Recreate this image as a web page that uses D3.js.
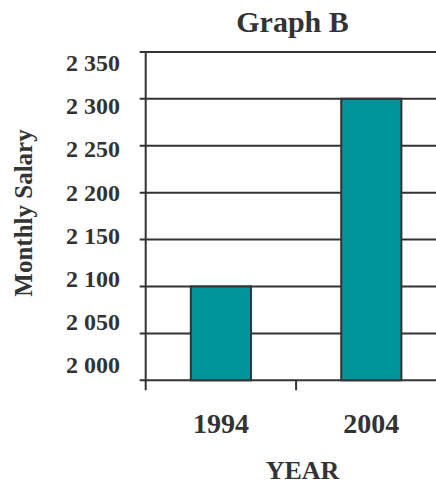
<!DOCTYPE html>
<html>
<head>
<meta charset="utf-8">
<script src="https://cdn.jsdelivr.net/npm/d3@7"></script>
<style>
  html, body { margin: 0; padding: 0; background: #fff; }
  svg { display: block; }
  text { font-family: "Liberation Serif", "Times New Roman", serif; font-weight: bold; fill: #333; }
</style>
</head>
<body>
<svg id="chart" width="436" height="485"></svg>
<script>
// Monthly salary by year
const years = ["1994", "2004"];
const salaries = [2100, 2300];
const yTicks = [2000, 2050, 2100, 2150, 2200, 2250, 2300, 2350];
const yTickLabels = ["2 000", "2 050", "2 100", "2 150", "2 200", "2 250", "2 300", "2 350"];

const svg = d3.select("#chart");
const ink = "#333";

const plot = { left: 145.7, right: 446.5, top: 51.9, bottom: 380.3 };

const x = d3.scaleBand().domain(years).range([plot.left, plot.right]).padding(0);
const y = d3.scaleLinear().domain([2000, 2350]).range([plot.bottom, plot.top]);
// tick labels sit on a slightly tighter spacing than the gridlines
const yLabel = d3.scaleLinear().domain([2000, 2350]).range([365, 63]);

// gridlines with left tick marks
svg.append("g")
  .selectAll("line")
  .data(yTicks)
  .join("line")
  .attr("x1", plot.left - 6)
  .attr("x2", 436)
  .attr("y1", d => y(d))
  .attr("y2", d => y(d))
  .attr("stroke", ink)
  .attr("stroke-width", 2);

// bars
const barW = x.bandwidth() * 0.4;
svg.append("g")
  .selectAll("rect")
  .data(years.map((yr, i) => ({ yr, v: salaries[i] })))
  .join("rect")
  .attr("x", d => x(d.yr) + x.bandwidth() / 2 - barW / 2)
  .attr("y", d => y(d.v))
  .attr("width", barW)
  .attr("height", d => y(2000) - y(d.v))
  .attr("fill", "#00939b")
  .attr("stroke", ink)
  .attr("stroke-width", 2);

// y axis line
svg.append("line")
  .attr("x1", plot.left).attr("x2", plot.left)
  .attr("y1", plot.top).attr("y2", plot.bottom + 10)
  .attr("stroke", ink).attr("stroke-width", 2);

// x axis ticks at category boundaries
svg.append("g")
  .selectAll("line")
  .data(years.slice(1))
  .join("line")
  .attr("x1", d => x(d)).attr("x2", d => x(d))
  .attr("y1", plot.bottom).attr("y2", plot.bottom + 10)
  .attr("stroke", ink).attr("stroke-width", 2);

// y tick labels
svg.append("g")
  .selectAll("text")
  .data(yTicks)
  .join("text")
  .attr("x", 120)
  .attr("y", d => yLabel(d))
  .attr("dy", "0.34em")
  .attr("text-anchor", "end")
  .style("font-size", "24px")
  .text((d, i) => yTickLabels[i]);

// x category labels
svg.append("g")
  .selectAll("text")
  .data(years)
  .join("text")
  .attr("x", d => x(d) + x.bandwidth() / 2)
  .attr("y", 433.3)
  .attr("text-anchor", "middle")
  .style("font-size", "28px")
  .text(d => d);

// title
svg.append("text")
  .attr("x", 292.5).attr("y", 31.5)
  .attr("text-anchor", "middle")
  .style("font-size", "30px")
  .text("Graph B");

// axis titles
svg.append("text")
  .attr("x", 302.5).attr("y", 478.5)
  .attr("text-anchor", "middle")
  .style("font-size", "26px")
  .text("YEAR");

svg.append("text")
  .attr("transform", "translate(31.5,213) rotate(-90)")
  .attr("text-anchor", "middle")
  .style("font-size", "25px")
  .text("Monthly Salary");
</script>
</body>
</html>
